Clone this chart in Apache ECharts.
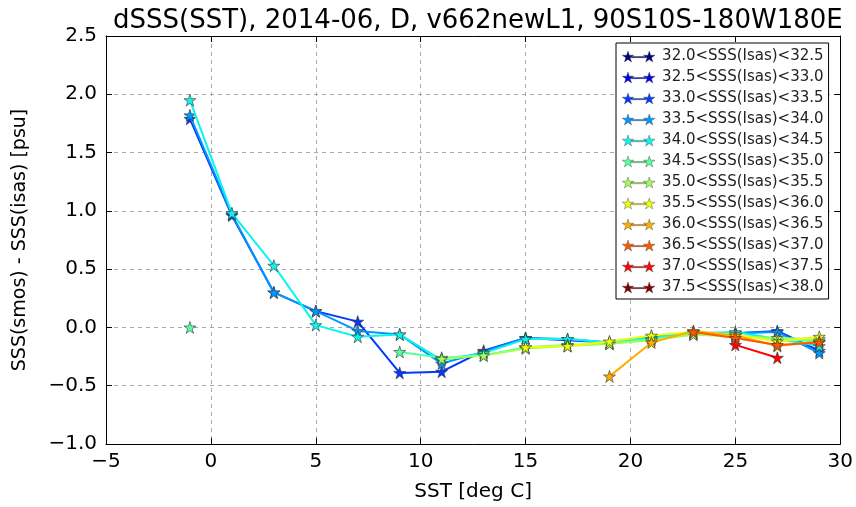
<!DOCTYPE html>
<html>
<head>
<meta charset="utf-8">
<script src="https://cdn.jsdelivr.net/npm/echarts@6/dist/echarts.min.js"></script>
<style>html,body{margin:0;padding:0;background:#fff;}#c{width:856px;height:507px;}</style>
</head>
<body>
<div id="c"></div>
<script>
// ---- data ----
const sst = [-1, 1, 3, 5, 7, 9, 11, 13, 15, 17, 19, 21, 23, 25, 27, 29];
const binLabels = [
  '32.0<SSS(Isas)<32.5', '32.5<SSS(Isas)<33.0', '33.0<SSS(Isas)<33.5',
  '33.5<SSS(Isas)<34.0', '34.0<SSS(Isas)<34.5', '34.5<SSS(Isas)<35.0',
  '35.0<SSS(Isas)<35.5', '35.5<SSS(Isas)<36.0', '36.0<SSS(Isas)<36.5',
  '36.5<SSS(Isas)<37.0', '37.0<SSS(Isas)<37.5', '37.5<SSS(Isas)<38.0'
];
const s320 = [null, null, null, null, null, null, null, null, null, null, null, null, null, null, null, null];
const s325 = [null, null, null, null, null, null, null, null, null, null, null, null, null, null, null, null];
const s330 = [1.79, 0.96, 0.30, 0.14, 0.05, -0.39, -0.38, -0.20, -0.09, -0.11, -0.13, -0.09, -0.05, -0.05, -0.03, -0.20];
const s335 = [1.82, 0.97, 0.30, 0.14, -0.03, -0.06, -0.31, -0.21, -0.09, -0.10, -0.13, -0.08, -0.05, -0.05, -0.04, -0.22];
const s340 = [1.95, 0.98, 0.53, 0.02, -0.08, -0.06, -0.28, -0.22, -0.10, -0.10, -0.13, -0.09, -0.05, -0.04, -0.10, -0.16];
const s345 = [0.00, null, null, null, null, -0.21, -0.26, -0.24, -0.17, -0.15, -0.14, -0.10, -0.06, -0.07, -0.10, -0.12];
const s350 = [null, null, null, null, null, null, -0.27, -0.24, -0.18, -0.16, -0.14, -0.11, -0.06, -0.08, -0.09, -0.10];
const s355 = [null, null, null, null, null, null, null, null, -0.17, -0.16, -0.12, -0.07, -0.04, -0.06, -0.12, -0.08];
const s360 = [null, null, null, null, null, null, null, null, null, null, -0.42, -0.13, -0.03, -0.07, -0.16, -0.12];
const s365 = [null, null, null, null, null, null, null, null, null, null, null, null, -0.04, -0.09, -0.15, -0.13];
const s370 = [null, null, null, null, null, null, null, null, null, null, null, null, null, -0.15, -0.26, null];
const s375 = [null, null, null, null, null, null, null, null, null, null, null, null, null, null, null, null];
const seriesValues = [s320, s325, s330, s335, s340, s345, s350, s355, s360, s365, s370, s375];
const xTicks = [-5, 0, 5, 10, 15, 20, 25, 30];
const yTicks = [-1.0, -0.5, 0.0, 0.5, 1.0, 1.5, 2.0, 2.5];

// jet colormap colors for 12 bins
const colors = ['#000080', '#0000e9', '#003aff', '#0097ff', '#0cf4eb', '#56ffa0',
                '#a0ff56', '#ebff0b', '#ffad00', '#ff5700', '#ff0200', '#800000'];

// ---- shapes ----
function starPath(cx, cy, R) {
  const r = R * 0.382;
  let d = '';
  for (let k = 0; k < 10; k++) {
    const a = (-90 + k * 36) * Math.PI / 180;
    const rad = (k % 2) ? r : R;
    d += (k === 0 ? 'M' : 'L') + (cx + rad * Math.cos(a)).toFixed(2) + ' ' + (cy + rad * Math.sin(a)).toFixed(2) + ' ';
  }
  return d + 'Z ';
}
const starSymbol = 'path://' + starPath(50, 50, 50);
const legendIcon = 'path://' + starPath(60, 60, 60) + 'M92 54 L238 54 L238 66 L92 66 Z ' + starPath(270, 60, 60);

const minus = v => (v < 0 ? '\u2212' : '') + Math.abs(v);
const fmtY = v => (v < 0 ? '\u2212' : '') + Math.abs(v).toFixed(1);

const font = 'DejaVu Sans';
const chart = echarts.init(document.getElementById('c'), null, {renderer: 'canvas'});

const series = binLabels.map((name, i) => ({
  name: name,
  type: 'line',
  data: sst.map((x, j) => [x, seriesValues[i][j]]),
  connectNulls: false,
  symbol: starSymbol,
  symbolSize: 12,
  showAllSymbol: true,
  animation: false,
  lineStyle: {color: colors[i], width: 2},
  itemStyle: {color: colors[i], borderColor: '#333', borderWidth: 0.6},
  emphasis: {disabled: true},
  z: 3 + i
}));

const axisCommon = {
  axisLine: {show: true, onZero: false, lineStyle: {color: '#000', width: 1}},
  axisTick: {show: true, inside: true, length: 6, lineStyle: {color: '#000', width: 1}},
  splitLine: {show: false},
  axisLabel: {show: false}
};

chart.setOption({
  backgroundColor: '#fff',
  animation: false,
  title: {
    text: 'dSSS(SST), 2014-06, D, v662newL1, 90S10S-180W180E',
    left: 108, top: 3,
    textStyle: {fontFamily: font, fontSize: 26, fontWeight: 'normal', color: '#000'}
  },
  grid: {left: 106, right: 13, top: 36, bottom: 58, containLabel: false},
  legend: {
    orient: 'vertical',
    left: 616, top: 43,
    padding: [6, 5, 4, 6],
    itemGap: 6,
    itemWidth: 33,
    itemHeight: 11,
    borderColor: '#000', borderWidth: 1,
    backgroundColor: '#fff',
    selectedMode: false,
    itemStyle: {borderColor: '#444', borderWidth: 0.4},
    textStyle: {fontFamily: font, fontSize: 15, color: '#222', padding: [0, 0, 0, 2]},
    data: binLabels.map(n => ({name: n, icon: legendIcon})),
    z: 20
  },
  xAxis: [
    {
      type: 'value', min: xTicks[0], max: xTicks[xTicks.length - 1], interval: 5,
      position: 'bottom',
      axisLine: {show: true, onZero: false, lineStyle: {color: '#000', width: 1}},
      axisTick: {show: true, inside: true, length: 6, lineStyle: {color: '#000'}},
      axisLabel: {formatter: minus, fontFamily: font, fontSize: 20, color: '#000', margin: 8},
      splitLine: {show: true, lineStyle: {color: '#a8a8a8', type: [4, 4], width: 1}},
      name: 'SST [deg C]', nameLocation: 'middle', nameGap: 38,
      nameTextStyle: {fontFamily: font, fontSize: 20, color: '#000'}
    },
    Object.assign({type: 'value', min: xTicks[0], max: xTicks[xTicks.length - 1], interval: 5, position: 'top'}, axisCommon)
  ],
  yAxis: [
    {
      type: 'value', min: yTicks[0], max: yTicks[yTicks.length - 1], interval: 0.5,
      position: 'left',
      axisLine: {show: true, onZero: false, lineStyle: {color: '#000', width: 1}},
      axisTick: {show: true, inside: true, length: 6, lineStyle: {color: '#000'}},
      axisLabel: {formatter: fmtY, fontFamily: font, fontSize: 20, color: '#000', margin: 9},
      splitLine: {show: true, lineStyle: {color: '#a8a8a8', type: [4, 4], width: 1}},
      name: 'SSS(smos) - SSS(isas) [psu]', nameLocation: 'middle', nameGap: 76,
      nameTextStyle: {fontFamily: font, fontSize: 19, color: '#000'}
    },
    Object.assign({type: 'value', min: yTicks[0], max: yTicks[yTicks.length - 1], interval: 0.5, position: 'right'}, axisCommon)
  ],
  series: series
});
</script>
</body>
</html>
